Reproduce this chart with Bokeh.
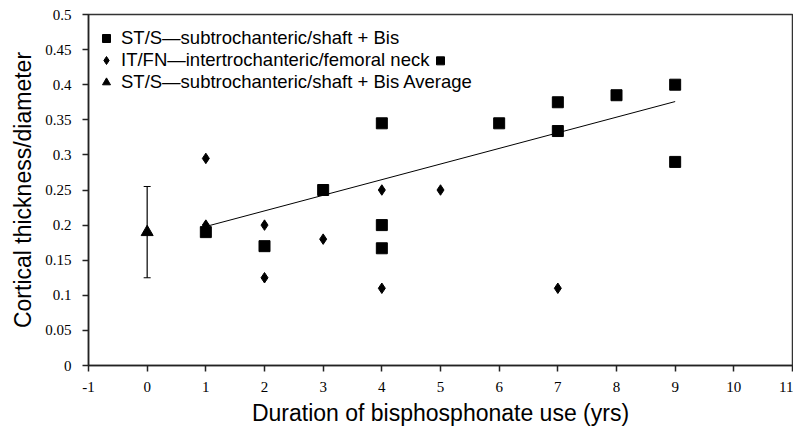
from bokeh.plotting import figure
from bokeh.models import Range1d, Legend, LegendItem, Whisker, ColumnDataSource, FixedTicker
from bokeh.embed import file_html
from bokeh.resources import INLINE

# data
sq_x = [1, 2, 3, 4, 4, 4, 6, 7, 7, 8, 9, 9]
sq_y = [0.19, 0.17, 0.25, 0.345, 0.2, 0.167, 0.345, 0.375, 0.334, 0.385, 0.40, 0.29]
extra_sq_x = [5]
extra_sq_y = [0.434]
dia_x = [1, 1, 2, 2, 3, 4, 4, 5, 7]
dia_y = [0.295, 0.2, 0.2, 0.125, 0.18, 0.25, 0.11, 0.25, 0.11]
avg_x = [0]
avg_y = [0.19]
avg_lo = [0.125]
avg_hi = [0.255]
trend_x = [1, 9]
trend_y = [0.198, 0.376]
x_ticks = list(range(-1, 12))
y_ticks = [0, 0.05, 0.1, 0.15, 0.2, 0.25, 0.3, 0.35, 0.4, 0.45, 0.5]
legend_labels = ["ST/S\u2014subtrochanteric/shaft + Bis",
                 "IT/FN\u2014intertrochanteric/femoral neck",
                 "ST/S\u2014subtrochanteric/shaft + Bis Average"]

p = figure(frame_width=704, frame_height=351, output_backend="svg", toolbar_location=None,
           x_range=Range1d(-1, 11), y_range=Range1d(0, 0.5),
           min_border_left=88, min_border_right=1, min_border_top=14, min_border_bottom=60)
p.grid.visible = False
p.outline_line_color = "#333333"
p.outline_line_width = 1.5
p.background_fill_color = "white"

for ax in (p.xaxis[0], p.yaxis[0]):
    ax.axis_line_color = "#222222"
    ax.axis_line_width = 1.5
    ax.major_tick_line_color = "#222222"
    ax.major_tick_line_width = 1.5
    ax.major_tick_out = 6
    ax.major_tick_in = 0
    ax.minor_tick_line_color = None
    ax.major_label_text_font = "Liberation Serif"
    ax.major_label_text_font_size = "15px"
    ax.major_label_text_color = "black"
    ax.axis_label_text_font = "Liberation Sans"
    ax.axis_label_text_font_style = "normal"
    ax.axis_label_text_font_size = "23px"
    ax.axis_label_text_color = "black"

p.xaxis.ticker = FixedTicker(ticks=x_ticks)
p.yaxis.ticker = FixedTicker(ticks=y_ticks)
p.xaxis.major_label_overrides = {t: str(t) for t in x_ticks}
p.yaxis.major_label_overrides = {t: ("0" if t == 0 else ("%g" % t)) for t in y_ticks}
p.xaxis.axis_label = "Duration of bisphosphonate use (yrs)"
p.yaxis.axis_label = "Cortical thickness/diameter"
p.xaxis.major_label_standoff = 10
p.xaxis.axis_label_standoff = 5
p.yaxis.major_label_standoff = 11
p.yaxis.axis_label_standoff = 6

p.line(trend_x, trend_y, line_color="black", line_width=1)

src = ColumnDataSource(dict(x=avg_x, lo=avg_lo, hi=avg_hi))
w = Whisker(source=src, base="x", lower="lo", upper="hi", line_color="black", line_width=1.2)
w.upper_head.size = 7
w.lower_head.size = 7
w.upper_head.line_color = "black"
w.lower_head.line_color = "black"
p.add_layout(w)

r1 = p.scatter(sq_x, sq_y, marker="square", size=11, fill_color="black", line_color="black")
p.scatter(extra_sq_x, extra_sq_y, marker="square", size=8, fill_color="black", line_color="black")
r2 = p.scatter(dia_x, dia_y, marker="diamond", size=10.5, fill_color="black", line_color="black")
r3 = p.scatter(avg_x, avg_y, marker="triangle", size=12, fill_color="black", line_color="black")

legend = Legend(items=[
    LegendItem(label=legend_labels[0], renderers=[r1]),
    LegendItem(label=legend_labels[1], renderers=[r2]),
    LegendItem(label=legend_labels[2], renderers=[r3]),
], location=(8, 272))
legend.border_line_color = None
legend.background_fill_alpha = 0
legend.label_text_font = "Liberation Sans"
legend.label_text_font_size = "18.5px"
legend.label_text_color = "black"
legend.glyph_width = 20
legend.glyph_height = 20
legend.label_height = 20
legend.spacing = 0
legend.margin = 0
legend.padding = 5
legend.label_standoff = 5
p.add_layout(legend)

open("out.html", "w").write(file_html(p, INLINE))
